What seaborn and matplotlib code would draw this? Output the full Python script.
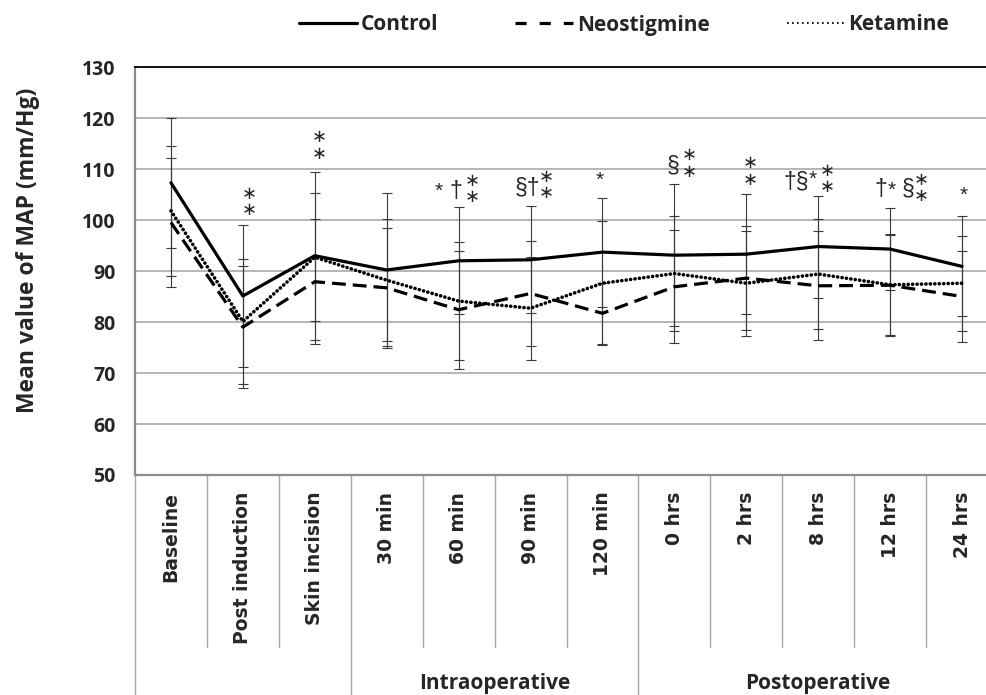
import numpy as np
import pandas as pd
import matplotlib
matplotlib.use("Agg")
import matplotlib.pyplot as plt
import seaborn as sns
from matplotlib.lines import Line2D

# ── data (mean ± SD of MAP) ─────────────────────────────────────
categories = ["Baseline", "Post induction", "Skin incision", "30 min", "60 min",
              "90 min", "120 min", "0 hrs", "2 hrs", "8 hrs", "12 hrs", "24 hrs"]
groups = ["Control", "Neostigmine", "Ketamine"]

control_mean = [107.3, 85.1, 93.0, 90.2, 92.0, 92.2, 93.7, 93.1, 93.3, 94.8, 94.3, 90.9]
control_sd   = [12.7, 14.0, 16.5, 15.0, 10.5, 10.5, 10.7, 13.9, 11.8, 10.0, 8.0, 9.8]
neo_mean     = [99.5, 79.0, 87.9, 86.7, 82.4, 85.6, 81.7, 86.9, 88.6, 87.1, 87.2, 85.0]
neo_sd       = [12.6, 12.0, 12.2, 11.8, 11.6, 10.3, 6.0, 11.1, 10.2, 10.7, 9.9, 9.0]
ket_mean     = [101.8, 80.1, 92.7, 88.2, 84.1, 82.7, 87.6, 89.5, 87.6, 89.4, 87.3, 87.6]
ket_sd       = [12.7, 12.2, 12.5, 12.0, 11.5, 10.1, 12.2, 11.2, 10.3, 10.7, 9.9, 9.3]

phase_names = ["Intraoperative", "Postoperative"]
phase_spans = [("30 min", "120 min"), ("0 hrs", "24 hrs")]

# significance marks: (category, y value, x offset in px)
star_pairs = [("Post induction", 103.5, 6), ("Skin incision", 114.6, 5),
              ("60 min", 106.1, 14), ("90 min", 106.8, 16), ("0 hrs", 111.1, 15),
              ("2 hrs", 109.5, 4), ("8 hrs", 108.1, 9), ("12 hrs", 106.3, 31)]
symbols = [("60 min", "*", 106.9, -20), ("60 min", "†", 105.5, -3),
           ("90 min", "§†", 106.1, -3), ("120 min", "*", 109.0, -3),
           ("0 hrs", "§", 110.5, -1), ("8 hrs", "†§", 107.3, -22),
           ("8 hrs", "*", 109.2, -6), ("12 hrs", "†", 105.9, -9),
           ("12 hrs", "*", 107.2, 2), ("12 hrs", "§", 105.9, 18),
           ("24 hrs", "*", 106.2, 2)]

# ── style ───────────────────────────────────────────────────────
sns.set_style("white")
plt.rcParams["font.family"] = ["Open Sans", "DejaVu Sans"]
plt.rcParams["lines.scale_dashes"] = False

fig = plt.figure(figsize=(9.86, 6.95), dpi=100)
ax = fig.add_axes([135 / 986, (695 - 475) / 695, (998 - 135) / 986, (475 - 67) / 695])

pos = np.arange(len(categories))
df = pd.DataFrame({
    "pos": np.tile(pos, 3),
    "group": np.repeat(groups, len(categories)),
    "mean": control_mean + neo_mean + ket_mean,
    "sd": control_sd + neo_sd + ket_sd,
})

line_styles = {
    "Control": dict(linestyle="-", lw=2.3),
    "Neostigmine": dict(linestyle=(0, (10, 5)), dash_capstyle="butt", lw=2.3),
    "Ketamine": dict(linestyle=(0, (0.1, 3.1)), dash_capstyle="round", lw=2.6),
}

for g in groups:
    d = df[df["group"] == g]
    ax.errorbar(d["pos"], d["mean"], yerr=d["sd"], fmt="none", ecolor="#3a3a3a",
                elinewidth=0.8, capsize=3.4, capthick=0.8, zorder=2)
for g in groups:
    d = df[df["group"] == g]
    sns.lineplot(x=d["pos"].values, y=d["mean"].values, ax=ax, color="black",
                 zorder=3, **line_styles[g])

# ── axes ────────────────────────────────────────────────────────
ax.set_xlim(-0.5, len(categories) - 0.5)
ax.set_ylim(50, 130)
ax.set_yticks(range(50, 131, 10))
ax.yaxis.grid(True, color="#b5b5b5", lw=1.4)
ax.set_axisbelow(True)
ax.tick_params(axis="y", direction="out", length=4, width=1, color="#8c8c8c",
               pad=10, labelsize=14)
for t in ax.get_yticklabels():
    t.set_fontweight("bold")

ax.set_xticks(pos, categories, rotation=90, fontfamily="DejaVu Sans",
              fontweight="bold", fontsize=13.5)
ax.tick_params(axis="x", length=0, pad=12)

ax.spines["right"].set_visible(False)
ax.spines["top"].set_color("black")
ax.spines["top"].set_linewidth(1.3)
for s in ("left", "bottom"):
    ax.spines[s].set_color("#8c8c8c")
    ax.spines[s].set_linewidth(1.6)

# category separators below the axis
trans = ax.get_xaxis_transform()
group_edges = [-0.5]
for start, end in phase_spans:
    group_edges += [categories.index(start) - 0.5, categories.index(end) + 0.5]
for b in np.arange(-0.5, len(categories)):
    low = -0.54 if b in group_edges else -0.4216
    ax.plot([b, b], [0, low], transform=trans, clip_on=False, color="#a6a6a6", lw=1)

for name, (start, end) in zip(phase_names, phase_spans):
    mid = (categories.index(start) + categories.index(end)) / 2
    ax.text(mid, -0.51, name, transform=trans, ha="center", va="center",
            fontsize=15, fontweight="bold")

fig.text(28 / 986, 1 - 250 / 695, "Mean value of MAP (mm/Hg)", rotation=90,
         ha="center", va="center", fontsize=16.5, fontweight="bold")

# ── significance marks ──────────────────────────────────────────
for cat, y, dx in star_pairs:
    ax.annotate("∗\n∗", xy=(categories.index(cat), y), xytext=(dx * 0.72, 0),
                textcoords="offset points", ha="center", va="center",
                fontsize=13, linespacing=0.88, family=["DejaVu Sans"])
for cat, txt, y, dx in symbols:
    if txt == "*":
        size, lift = 15, 0.58
    else:
        size, lift = 16.5, 0.26
    ax.annotate(txt, xy=(categories.index(cat), y), xytext=(dx * 0.72, -lift * size),
                textcoords="offset points", ha="center", va="baseline",
                fontsize=size, family=["Liberation Sans", "DejaVu Sans"])

# ── legend ──────────────────────────────────────────────────────
handles = [Line2D([], [], color="black", lw=2.3),
           Line2D([], [], color="black", lw=2.3, linestyle=(0, (8, 9.4))),
           Line2D([], [], color="black", lw=1.3, linestyle=(0, (1.2, 2.4)))]
fig.legend(handles, groups, loc="center", bbox_to_anchor=(624 / 986, 1 - 25 / 695),
           ncol=3, frameon=False, prop=dict(family="Open Sans", weight="bold", size=15),
           handlelength=2.75, handletextpad=0.2, columnspacing=3.7)

fig.savefig("out.png", dpi=100)
